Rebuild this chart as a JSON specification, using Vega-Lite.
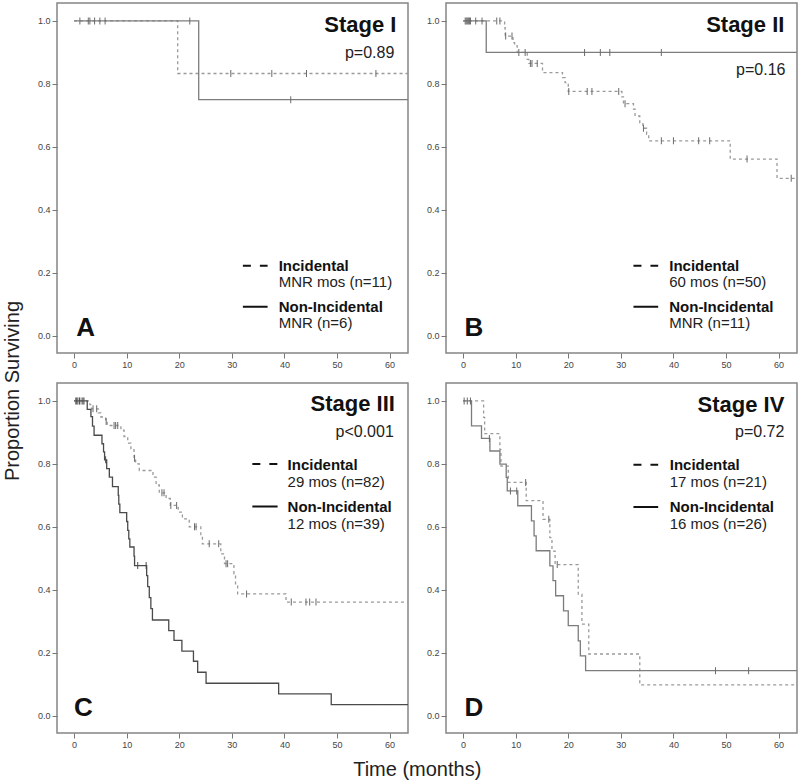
{
  "$schema": "https://vega.github.io/schema/vega-lite/v6.json",
  "padding": {"left": 2, "top": 2, "right": 0, "bottom": 0},
  "background": "white",
  "title": {"text": "Proportion Surviving", "orient": "left", "anchor": "middle", "fontSize": 20, "font": "Liberation Sans", "fontWeight": "normal", "color": "#222", "offset": 14},
  "data": {"values": [
    {"kind":"curve","panel":"A","series":"Incidental","time":0,"surv":1},
    {"kind":"curve","panel":"A","series":"Incidental","time":19.7,"surv":0.833},
    {"kind":"curve","panel":"A","series":"Incidental","time":64,"surv":0.833},
    {"kind":"curve","panel":"A","series":"Non-Incidental","time":0,"surv":1},
    {"kind":"curve","panel":"A","series":"Non-Incidental","time":23.7,"surv":0.75},
    {"kind":"curve","panel":"A","series":"Non-Incidental","time":64,"surv":0.75},

    {"kind":"curve","panel":"B","series":"Incidental","time":0,"surv":1},
    {"kind":"curve","panel":"B","series":"Incidental","time":7.9,"surv":0.979},
    {"kind":"curve","panel":"B","series":"Incidental","time":8.0,"surv":0.952},
    {"kind":"curve","panel":"B","series":"Incidental","time":9.5,"surv":0.931},
    {"kind":"curve","panel":"B","series":"Incidental","time":9.8,"surv":0.921},
    {"kind":"curve","panel":"B","series":"Incidental","time":10.3,"surv":0.9},
    {"kind":"curve","panel":"B","series":"Incidental","time":12.2,"surv":0.878},
    {"kind":"curve","panel":"B","series":"Incidental","time":12.5,"surv":0.865},
    {"kind":"curve","panel":"B","series":"Incidental","time":15.1,"surv":0.836},
    {"kind":"curve","panel":"B","series":"Incidental","time":18.9,"surv":0.82},
    {"kind":"curve","panel":"B","series":"Incidental","time":19.4,"surv":0.804},
    {"kind":"curve","panel":"B","series":"Incidental","time":20.0,"surv":0.776},
    {"kind":"curve","panel":"B","series":"Incidental","time":30.2,"surv":0.759},
    {"kind":"curve","panel":"B","series":"Incidental","time":30.5,"surv":0.737},
    {"kind":"curve","panel":"B","series":"Incidental","time":32.4,"surv":0.72},
    {"kind":"curve","panel":"B","series":"Incidental","time":32.7,"surv":0.698},
    {"kind":"curve","panel":"B","series":"Incidental","time":33.6,"surv":0.677},
    {"kind":"curve","panel":"B","series":"Incidental","time":34.2,"surv":0.659},
    {"kind":"curve","panel":"B","series":"Incidental","time":34.9,"surv":0.64},
    {"kind":"curve","panel":"B","series":"Incidental","time":35.3,"surv":0.619},
    {"kind":"curve","panel":"B","series":"Incidental","time":50.8,"surv":0.561},
    {"kind":"curve","panel":"B","series":"Incidental","time":59.7,"surv":0.5},
    {"kind":"curve","panel":"B","series":"Incidental","time":64,"surv":0.5},
    {"kind":"curve","panel":"B","series":"Non-Incidental","time":0,"surv":1},
    {"kind":"curve","panel":"B","series":"Non-Incidental","time":4.4,"surv":0.9},
    {"kind":"curve","panel":"B","series":"Non-Incidental","time":64,"surv":0.9},

    {"kind":"curve","panel":"C","series":"Incidental","time":0,"surv":1},
    {"kind":"curve","panel":"C","series":"Incidental","time":3.0,"surv":0.988},
    {"kind":"curve","panel":"C","series":"Incidental","time":3.3,"surv":0.975},
    {"kind":"curve","panel":"C","series":"Incidental","time":4.6,"surv":0.962},
    {"kind":"curve","panel":"C","series":"Incidental","time":5.1,"surv":0.949},
    {"kind":"curve","panel":"C","series":"Incidental","time":6.0,"surv":0.935},
    {"kind":"curve","panel":"C","series":"Incidental","time":6.3,"surv":0.922},
    {"kind":"curve","panel":"C","series":"Incidental","time":8.9,"surv":0.907},
    {"kind":"curve","panel":"C","series":"Incidental","time":9.5,"surv":0.887},
    {"kind":"curve","panel":"C","series":"Incidental","time":10.2,"surv":0.866},
    {"kind":"curve","panel":"C","series":"Incidental","time":10.8,"surv":0.845},
    {"kind":"curve","panel":"C","series":"Incidental","time":11.4,"surv":0.818},
    {"kind":"curve","panel":"C","series":"Incidental","time":11.7,"surv":0.8},
    {"kind":"curve","panel":"C","series":"Incidental","time":12.4,"surv":0.779},
    {"kind":"curve","panel":"C","series":"Incidental","time":15.0,"surv":0.758},
    {"kind":"curve","panel":"C","series":"Incidental","time":15.6,"surv":0.733},
    {"kind":"curve","panel":"C","series":"Incidental","time":16.2,"surv":0.708},
    {"kind":"curve","panel":"C","series":"Incidental","time":17.5,"surv":0.69},
    {"kind":"curve","panel":"C","series":"Incidental","time":18.3,"surv":0.668},
    {"kind":"curve","panel":"C","series":"Incidental","time":19.8,"surv":0.647},
    {"kind":"curve","panel":"C","series":"Incidental","time":20.6,"surv":0.625},
    {"kind":"curve","panel":"C","series":"Incidental","time":21.9,"surv":0.6},
    {"kind":"curve","panel":"C","series":"Incidental","time":24.1,"surv":0.575},
    {"kind":"curve","panel":"C","series":"Incidental","time":24.4,"surv":0.546},
    {"kind":"curve","panel":"C","series":"Incidental","time":27.9,"surv":0.514},
    {"kind":"curve","panel":"C","series":"Incidental","time":28.6,"surv":0.483},
    {"kind":"curve","panel":"C","series":"Incidental","time":30.4,"surv":0.451},
    {"kind":"curve","panel":"C","series":"Incidental","time":30.7,"surv":0.419},
    {"kind":"curve","panel":"C","series":"Incidental","time":31.1,"surv":0.387},
    {"kind":"curve","panel":"C","series":"Incidental","time":40.3,"surv":0.361},
    {"kind":"curve","panel":"C","series":"Incidental","time":64,"surv":0.361},
    {"kind":"curve","panel":"C","series":"Non-Incidental","time":0,"surv":1},
    {"kind":"curve","panel":"C","series":"Non-Incidental","time":2.5,"surv":0.973},
    {"kind":"curve","panel":"C","series":"Non-Incidental","time":3.2,"surv":0.95},
    {"kind":"curve","panel":"C","series":"Non-Incidental","time":3.5,"surv":0.92},
    {"kind":"curve","panel":"C","series":"Non-Incidental","time":3.8,"surv":0.891},
    {"kind":"curve","panel":"C","series":"Non-Incidental","time":5.3,"surv":0.864},
    {"kind":"curve","panel":"C","series":"Non-Incidental","time":5.6,"surv":0.838},
    {"kind":"curve","panel":"C","series":"Non-Incidental","time":5.8,"surv":0.813},
    {"kind":"curve","panel":"C","series":"Non-Incidental","time":6.2,"surv":0.785},
    {"kind":"curve","panel":"C","series":"Non-Incidental","time":6.7,"surv":0.758},
    {"kind":"curve","panel":"C","series":"Non-Incidental","time":7.3,"surv":0.728},
    {"kind":"curve","panel":"C","series":"Non-Incidental","time":8.4,"surv":0.7},
    {"kind":"curve","panel":"C","series":"Non-Incidental","time":8.5,"surv":0.672},
    {"kind":"curve","panel":"C","series":"Non-Incidental","time":8.7,"surv":0.645},
    {"kind":"curve","panel":"C","series":"Non-Incidental","time":10.0,"surv":0.617},
    {"kind":"curve","panel":"C","series":"Non-Incidental","time":10.2,"surv":0.589},
    {"kind":"curve","panel":"C","series":"Non-Incidental","time":10.4,"surv":0.562},
    {"kind":"curve","panel":"C","series":"Non-Incidental","time":10.6,"surv":0.536},
    {"kind":"curve","panel":"C","series":"Non-Incidental","time":11.4,"surv":0.507},
    {"kind":"curve","panel":"C","series":"Non-Incidental","time":11.5,"surv":0.477},
    {"kind":"curve","panel":"C","series":"Non-Incidental","time":13.8,"surv":0.445},
    {"kind":"curve","panel":"C","series":"Non-Incidental","time":14.0,"surv":0.41},
    {"kind":"curve","panel":"C","series":"Non-Incidental","time":14.3,"surv":0.375},
    {"kind":"curve","panel":"C","series":"Non-Incidental","time":14.6,"surv":0.34},
    {"kind":"curve","panel":"C","series":"Non-Incidental","time":14.9,"surv":0.304},
    {"kind":"curve","panel":"C","series":"Non-Incidental","time":18.0,"surv":0.27},
    {"kind":"curve","panel":"C","series":"Non-Incidental","time":19.0,"surv":0.239},
    {"kind":"curve","panel":"C","series":"Non-Incidental","time":20.5,"surv":0.205},
    {"kind":"curve","panel":"C","series":"Non-Incidental","time":22.7,"surv":0.173},
    {"kind":"curve","panel":"C","series":"Non-Incidental","time":23.5,"surv":0.138},
    {"kind":"curve","panel":"C","series":"Non-Incidental","time":25.1,"surv":0.103},
    {"kind":"curve","panel":"C","series":"Non-Incidental","time":38.9,"surv":0.069},
    {"kind":"curve","panel":"C","series":"Non-Incidental","time":48.9,"surv":0.035},
    {"kind":"curve","panel":"C","series":"Non-Incidental","time":64,"surv":0.035},

    {"kind":"curve","panel":"D","series":"Incidental","time":0,"surv":1},
    {"kind":"curve","panel":"D","series":"Incidental","time":3.9,"surv":0.948},
    {"kind":"curve","panel":"D","series":"Incidental","time":4.1,"surv":0.896},
    {"kind":"curve","panel":"D","series":"Incidental","time":7.0,"surv":0.845},
    {"kind":"curve","panel":"D","series":"Incidental","time":7.2,"surv":0.793},
    {"kind":"curve","panel":"D","series":"Incidental","time":8.6,"surv":0.741},
    {"kind":"curve","panel":"D","series":"Incidental","time":12.0,"surv":0.683},
    {"kind":"curve","panel":"D","series":"Incidental","time":15.2,"surv":0.624},
    {"kind":"curve","panel":"D","series":"Incidental","time":16.5,"surv":0.566},
    {"kind":"curve","panel":"D","series":"Incidental","time":16.9,"surv":0.523},
    {"kind":"curve","panel":"D","series":"Incidental","time":17.5,"surv":0.48},
    {"kind":"curve","panel":"D","series":"Incidental","time":21.9,"surv":0.386},
    {"kind":"curve","panel":"D","series":"Incidental","time":22.6,"surv":0.291},
    {"kind":"curve","panel":"D","series":"Incidental","time":23.9,"surv":0.196},
    {"kind":"curve","panel":"D","series":"Incidental","time":33.6,"surv":0.098},
    {"kind":"curve","panel":"D","series":"Incidental","time":64,"surv":0.098},
    {"kind":"curve","panel":"D","series":"Non-Incidental","time":0,"surv":1},
    {"kind":"curve","panel":"D","series":"Non-Incidental","time":1.6,"surv":0.921},
    {"kind":"curve","panel":"D","series":"Non-Incidental","time":3.5,"surv":0.881},
    {"kind":"curve","panel":"D","series":"Non-Incidental","time":5.1,"surv":0.841},
    {"kind":"curve","panel":"D","series":"Non-Incidental","time":7.0,"surv":0.799},
    {"kind":"curve","panel":"D","series":"Non-Incidental","time":8.2,"surv":0.757},
    {"kind":"curve","panel":"D","series":"Non-Incidental","time":8.4,"surv":0.714},
    {"kind":"curve","panel":"D","series":"Non-Incidental","time":10.4,"surv":0.667},
    {"kind":"curve","panel":"D","series":"Non-Incidental","time":13.0,"surv":0.619},
    {"kind":"curve","panel":"D","series":"Non-Incidental","time":13.5,"surv":0.571},
    {"kind":"curve","panel":"D","series":"Non-Incidental","time":13.9,"surv":0.524},
    {"kind":"curve","panel":"D","series":"Non-Incidental","time":16.5,"surv":0.476},
    {"kind":"curve","panel":"D","series":"Non-Incidental","time":17.1,"surv":0.429},
    {"kind":"curve","panel":"D","series":"Non-Incidental","time":17.6,"surv":0.381},
    {"kind":"curve","panel":"D","series":"Non-Incidental","time":19.1,"surv":0.333},
    {"kind":"curve","panel":"D","series":"Non-Incidental","time":20.0,"surv":0.286},
    {"kind":"curve","panel":"D","series":"Non-Incidental","time":21.9,"surv":0.238},
    {"kind":"curve","panel":"D","series":"Non-Incidental","time":22.3,"surv":0.19},
    {"kind":"curve","panel":"D","series":"Non-Incidental","time":23.3,"surv":0.143},
    {"kind":"curve","panel":"D","series":"Non-Incidental","time":64,"surv":0.143},

    {"kind":"censor","panel":"A","series":"Incidental","time":1.1,"surv":1},
    {"kind":"censor","panel":"A","series":"Incidental","time":2.7,"surv":1},
    {"kind":"censor","panel":"A","series":"Incidental","time":3.9,"surv":1},
    {"kind":"censor","panel":"A","series":"Incidental","time":4.9,"surv":1},
    {"kind":"censor","panel":"A","series":"Incidental","time":5.9,"surv":1},
    {"kind":"censor","panel":"A","series":"Incidental","time":29.8,"surv":0.833},
    {"kind":"censor","panel":"A","series":"Incidental","time":37.6,"surv":0.833},
    {"kind":"censor","panel":"A","series":"Incidental","time":44.2,"surv":0.833},
    {"kind":"censor","panel":"A","series":"Incidental","time":57.4,"surv":0.833},
    {"kind":"censor","panel":"A","series":"Non-Incidental","time":3.0,"surv":1},
    {"kind":"censor","panel":"A","series":"Non-Incidental","time":22.0,"surv":1},
    {"kind":"censor","panel":"A","series":"Non-Incidental","time":41.2,"surv":0.75},

    {"kind":"censor","panel":"B","series":"Incidental","time":0.4,"surv":1},
    {"kind":"censor","panel":"B","series":"Incidental","time":0.8,"surv":1},
    {"kind":"censor","panel":"B","series":"Incidental","time":1.0,"surv":1},
    {"kind":"censor","panel":"B","series":"Incidental","time":1.2,"surv":1},
    {"kind":"censor","panel":"B","series":"Incidental","time":6.4,"surv":1},
    {"kind":"censor","panel":"B","series":"Incidental","time":7.0,"surv":1},
    {"kind":"censor","panel":"B","series":"Incidental","time":8.1,"surv":0.952},
    {"kind":"censor","panel":"B","series":"Incidental","time":9.3,"surv":0.952},
    {"kind":"censor","panel":"B","series":"Incidental","time":10.6,"surv":0.9},
    {"kind":"censor","panel":"B","series":"Incidental","time":11.8,"surv":0.9},
    {"kind":"censor","panel":"B","series":"Incidental","time":12.8,"surv":0.865},
    {"kind":"censor","panel":"B","series":"Incidental","time":13.1,"surv":0.865},
    {"kind":"censor","panel":"B","series":"Incidental","time":14.1,"surv":0.865},
    {"kind":"censor","panel":"B","series":"Incidental","time":20.1,"surv":0.776},
    {"kind":"censor","panel":"B","series":"Incidental","time":23.6,"surv":0.776},
    {"kind":"censor","panel":"B","series":"Incidental","time":24.5,"surv":0.776},
    {"kind":"censor","panel":"B","series":"Incidental","time":29.6,"surv":0.776},
    {"kind":"censor","panel":"B","series":"Incidental","time":30.8,"surv":0.737},
    {"kind":"censor","panel":"B","series":"Incidental","time":34.3,"surv":0.659},
    {"kind":"censor","panel":"B","series":"Incidental","time":37.7,"surv":0.619},
    {"kind":"censor","panel":"B","series":"Incidental","time":40.0,"surv":0.619},
    {"kind":"censor","panel":"B","series":"Incidental","time":44.8,"surv":0.619},
    {"kind":"censor","panel":"B","series":"Incidental","time":46.9,"surv":0.619},
    {"kind":"censor","panel":"B","series":"Incidental","time":54.0,"surv":0.561},
    {"kind":"censor","panel":"B","series":"Incidental","time":62.4,"surv":0.5},
    {"kind":"censor","panel":"B","series":"Non-Incidental","time":0.6,"surv":1},
    {"kind":"censor","panel":"B","series":"Non-Incidental","time":1.4,"surv":1},
    {"kind":"censor","panel":"B","series":"Non-Incidental","time":2.4,"surv":1},
    {"kind":"censor","panel":"B","series":"Non-Incidental","time":3.6,"surv":1},
    {"kind":"censor","panel":"B","series":"Non-Incidental","time":23.1,"surv":0.9},
    {"kind":"censor","panel":"B","series":"Non-Incidental","time":26.1,"surv":0.9},
    {"kind":"censor","panel":"B","series":"Non-Incidental","time":27.9,"surv":0.9},
    {"kind":"censor","panel":"B","series":"Non-Incidental","time":37.7,"surv":0.9},

    {"kind":"censor","panel":"C","series":"Incidental","time":0.3,"surv":1},
    {"kind":"censor","panel":"C","series":"Incidental","time":0.7,"surv":1},
    {"kind":"censor","panel":"C","series":"Incidental","time":1.1,"surv":1},
    {"kind":"censor","panel":"C","series":"Incidental","time":1.5,"surv":1},
    {"kind":"censor","panel":"C","series":"Incidental","time":1.9,"surv":1},
    {"kind":"censor","panel":"C","series":"Incidental","time":3.6,"surv":0.975},
    {"kind":"censor","panel":"C","series":"Incidental","time":4.3,"surv":0.975},
    {"kind":"censor","panel":"C","series":"Incidental","time":6.1,"surv":0.935},
    {"kind":"censor","panel":"C","series":"Incidental","time":7.6,"surv":0.922},
    {"kind":"censor","panel":"C","series":"Incidental","time":7.9,"surv":0.922},
    {"kind":"censor","panel":"C","series":"Incidental","time":8.3,"surv":0.922},
    {"kind":"censor","panel":"C","series":"Incidental","time":11.5,"surv":0.818},
    {"kind":"censor","panel":"C","series":"Incidental","time":16.7,"surv":0.708},
    {"kind":"censor","panel":"C","series":"Incidental","time":17.1,"surv":0.708},
    {"kind":"censor","panel":"C","series":"Incidental","time":18.4,"surv":0.668},
    {"kind":"censor","panel":"C","series":"Incidental","time":19.5,"surv":0.668},
    {"kind":"censor","panel":"C","series":"Incidental","time":22.9,"surv":0.6},
    {"kind":"censor","panel":"C","series":"Incidental","time":23.2,"surv":0.6},
    {"kind":"censor","panel":"C","series":"Incidental","time":25.7,"surv":0.546},
    {"kind":"censor","panel":"C","series":"Incidental","time":27.5,"surv":0.546},
    {"kind":"censor","panel":"C","series":"Incidental","time":28.9,"surv":0.483},
    {"kind":"censor","panel":"C","series":"Incidental","time":29.2,"surv":0.483},
    {"kind":"censor","panel":"C","series":"Incidental","time":32.8,"surv":0.387},
    {"kind":"censor","panel":"C","series":"Incidental","time":41.3,"surv":0.361},
    {"kind":"censor","panel":"C","series":"Incidental","time":44.1,"surv":0.361},
    {"kind":"censor","panel":"C","series":"Incidental","time":44.8,"surv":0.361},
    {"kind":"censor","panel":"C","series":"Incidental","time":46.0,"surv":0.361},
    {"kind":"censor","panel":"C","series":"Non-Incidental","time":0.5,"surv":1},
    {"kind":"censor","panel":"C","series":"Non-Incidental","time":1.0,"surv":1},
    {"kind":"censor","panel":"C","series":"Non-Incidental","time":1.7,"surv":1},
    {"kind":"censor","panel":"C","series":"Non-Incidental","time":6.0,"surv":0.813},
    {"kind":"censor","panel":"C","series":"Non-Incidental","time":12.1,"surv":0.477},
    {"kind":"censor","panel":"C","series":"Non-Incidental","time":13.7,"surv":0.477},

    {"kind":"censor","panel":"D","series":"Incidental","time":0.8,"surv":1},
    {"kind":"censor","panel":"D","series":"Incidental","time":11.9,"surv":0.741},
    {"kind":"censor","panel":"D","series":"Incidental","time":16.3,"surv":0.624},
    {"kind":"censor","panel":"D","series":"Incidental","time":17.9,"surv":0.48},
    {"kind":"censor","panel":"D","series":"Non-Incidental","time":0.2,"surv":1},
    {"kind":"censor","panel":"D","series":"Non-Incidental","time":1.4,"surv":1},
    {"kind":"censor","panel":"D","series":"Non-Incidental","time":5.0,"surv":0.881},
    {"kind":"censor","panel":"D","series":"Non-Incidental","time":9.0,"surv":0.714},
    {"kind":"censor","panel":"D","series":"Non-Incidental","time":10.2,"surv":0.714},
    {"kind":"censor","panel":"D","series":"Non-Incidental","time":48.0,"surv":0.143},
    {"kind":"censor","panel":"D","series":"Non-Incidental","time":54.3,"surv":0.143},

    {"kind":"key","panel":"A","series":"Incidental","time":32.1,"time2":36.8,"surv":0.222},
    {"kind":"key","panel":"A","series":"Non-Incidental","time":32.1,"time2":36.8,"surv":0.092},
    {"kind":"key","panel":"B","series":"Incidental","time":32.4,"time2":37.1,"surv":0.222},
    {"kind":"key","panel":"B","series":"Non-Incidental","time":32.4,"time2":37.1,"surv":0.092},
    {"kind":"key","panel":"C","series":"Incidental","time":33.9,"time2":38.7,"surv":0.8},
    {"kind":"key","panel":"C","series":"Non-Incidental","time":33.9,"time2":38.7,"surv":0.665},
    {"kind":"key","panel":"D","series":"Incidental","time":32.4,"time2":37.1,"surv":0.797},
    {"kind":"key","panel":"D","series":"Non-Incidental","time":32.4,"time2":37.1,"surv":0.663},

    {"kind":"stage","panel":"A","text":"Stage I","time":61.3,"surv":0.965},
    {"kind":"stage","panel":"B","text":"Stage II","time":61.1,"surv":0.965},
    {"kind":"stage","panel":"C","text":"Stage III","time":61.0,"surv":0.968},
    {"kind":"stage","panel":"D","text":"Stage IV","time":61.1,"surv":0.966},
    {"kind":"pval","panel":"A","text":"p=0.89","time":60.9,"surv":0.883},
    {"kind":"pval","panel":"B","text":"p=0.16","time":61.3,"surv":0.829},
    {"kind":"pval","panel":"C","text":"p<0.001","time":60.8,"surv":0.885},
    {"kind":"pval","panel":"D","text":"p=0.72","time":61.1,"surv":0.884},
    {"kind":"letter","panel":"A","text":"A","time":0.4,"surv":0.0},
    {"kind":"letter","panel":"B","text":"B","time":0.25,"surv":0.0},
    {"kind":"letter","panel":"C","text":"C","time":0.0,"surv":0.0},
    {"kind":"letter","panel":"D","text":"D","time":0.25,"surv":0.0},
    {"kind":"head","panel":"A","text":"Incidental","time":38.9,"surv":0.205},
    {"kind":"head","panel":"A","text":"Non-Incidental","time":38.9,"surv":0.076},
    {"kind":"head","panel":"B","text":"Incidental","time":39.2,"surv":0.205},
    {"kind":"head","panel":"B","text":"Non-Incidental","time":39.2,"surv":0.076},
    {"kind":"head","panel":"C","text":"Incidental","time":40.6,"surv":0.781},
    {"kind":"head","panel":"C","text":"Non-Incidental","time":40.6,"surv":0.647},
    {"kind":"head","panel":"D","text":"Incidental","time":39.3,"surv":0.78},
    {"kind":"head","panel":"D","text":"Non-Incidental","time":39.3,"surv":0.646},
    {"kind":"sub","panel":"A","text":"MNR mos (n=11)","time":38.9,"surv":0.156},
    {"kind":"sub","panel":"A","text":"MNR (n=6)","time":38.9,"surv":0.025},
    {"kind":"sub","panel":"B","text":"60 mos (n=50)","time":39.2,"surv":0.156},
    {"kind":"sub","panel":"B","text":"MNR (n=11)","time":39.2,"surv":0.025},
    {"kind":"sub","panel":"C","text":"29 mos (n=82)","time":40.6,"surv":0.726},
    {"kind":"sub","panel":"C","text":"12 mos (n=39)","time":40.6,"surv":0.594},
    {"kind":"sub","panel":"D","text":"17 mos (n=21)","time":39.3,"surv":0.725},
    {"kind":"sub","panel":"D","text":"16 mos (n=26)","time":39.3,"surv":0.593}
  ]},
  "vconcat": [
    {
      "title": {"text": "Time (months)", "orient": "bottom", "anchor": "middle", "fontSize": 20, "font": "Liberation Sans", "fontWeight": "normal", "color": "#222", "offset": 10},
      "spacing": 12,
      "vconcat": [
        {
          "spacing": 38,
          "bounds": "flush",
          "hconcat": [
            {
              "width": 351, "height": 350,
              "transform": [{"filter": "datum.panel === 'A'"}],
              "encoding": {
                "x": {"field": "time", "type": "quantitative", "scale": {"domain": [-3.25, 63.5], "nice": false, "zero": false}, "axis": {"values": [0, 10, 20, 30, 40, 50, 60], "title": null}},
                "y": {"field": "surv", "type": "quantitative", "scale": {"domain": [-0.055, 1.057], "nice": false, "zero": false}, "axis": {"values": [0, 0.2, 0.4, 0.6, 0.8, 1], "format": ".1f", "title": null}}
              },
              "layer": [
                {"transform": [{"filter": "datum.kind === 'curve'"}], "mark": {"type": "line", "interpolate": "step-after", "clip": true, "strokeWidth": 1.3},
                 "encoding": {"detail": {"field": "series"},
                   "stroke": {"condition": {"test": "datum.series === 'Incidental'", "value": "#9a9a9a"}, "value": "#7c7c7c"},
                   "strokeDash": {"condition": {"test": "datum.series === 'Incidental'", "value": [3, 3]}, "value": [1, 0]}}},
                {"transform": [{"filter": "datum.kind === 'censor'"}], "mark": {"type": "tick", "orient": "vertical", "size": 7, "thickness": 1, "opacity": 1, "color": "#6a6a6a"}},
                {"transform": [{"filter": "datum.kind === 'key'"}], "mark": {"type": "rule", "strokeWidth": 2, "color": "#111"},
                 "encoding": {"x2": {"field": "time2"}, "strokeDash": {"condition": {"test": "datum.series === 'Incidental'", "value": [8, 9]}, "value": [1, 0]}}},
                {"transform": [{"filter": "datum.kind === 'stage'"}], "mark": {"type": "text", "align": "right", "baseline": "alphabetic", "fontSize": 22, "fontWeight": "bold", "color": "#111"}, "encoding": {"text": {"field": "text"}}},
                {"transform": [{"filter": "datum.kind === 'pval'"}], "mark": {"type": "text", "align": "right", "baseline": "alphabetic", "fontSize": 16, "color": "#222"}, "encoding": {"text": {"field": "text"}}},
                {"transform": [{"filter": "datum.kind === 'letter'"}], "mark": {"type": "text", "align": "left", "baseline": "alphabetic", "fontSize": 26, "fontWeight": "bold", "color": "#111"}, "encoding": {"text": {"field": "text"}}},
                {"transform": [{"filter": "datum.kind === 'head'"}], "mark": {"type": "text", "align": "left", "baseline": "alphabetic", "fontSize": 15, "fontWeight": "bold", "color": "#111"}, "encoding": {"text": {"field": "text"}}},
                {"transform": [{"filter": "datum.kind === 'sub'"}], "mark": {"type": "text", "align": "left", "baseline": "alphabetic", "fontSize": 15, "color": "#222"}, "encoding": {"text": {"field": "text"}}}
              ]
            },
            {
              "width": 351, "height": 350,
              "transform": [{"filter": "datum.panel === 'B'"}],
              "encoding": {
                "x": {"field": "time", "type": "quantitative", "scale": {"domain": [-3.25, 63.5], "nice": false, "zero": false}, "axis": {"values": [0, 10, 20, 30, 40, 50, 60], "title": null}},
                "y": {"field": "surv", "type": "quantitative", "scale": {"domain": [-0.055, 1.057], "nice": false, "zero": false}, "axis": {"values": [0, 0.2, 0.4, 0.6, 0.8, 1], "format": ".1f", "title": null}}
              },
              "layer": [
                {"transform": [{"filter": "datum.kind === 'curve'"}], "mark": {"type": "line", "interpolate": "step-after", "clip": true, "strokeWidth": 1.3},
                 "encoding": {"detail": {"field": "series"},
                   "stroke": {"condition": {"test": "datum.series === 'Incidental'", "value": "#9a9a9a"}, "value": "#7c7c7c"},
                   "strokeDash": {"condition": {"test": "datum.series === 'Incidental'", "value": [3, 3]}, "value": [1, 0]}}},
                {"transform": [{"filter": "datum.kind === 'censor'"}], "mark": {"type": "tick", "orient": "vertical", "size": 7, "thickness": 1, "opacity": 1, "color": "#6a6a6a"}},
                {"transform": [{"filter": "datum.kind === 'key'"}], "mark": {"type": "rule", "strokeWidth": 2, "color": "#111"},
                 "encoding": {"x2": {"field": "time2"}, "strokeDash": {"condition": {"test": "datum.series === 'Incidental'", "value": [8, 9]}, "value": [1, 0]}}},
                {"transform": [{"filter": "datum.kind === 'stage'"}], "mark": {"type": "text", "align": "right", "baseline": "alphabetic", "fontSize": 22, "fontWeight": "bold", "color": "#111"}, "encoding": {"text": {"field": "text"}}},
                {"transform": [{"filter": "datum.kind === 'pval'"}], "mark": {"type": "text", "align": "right", "baseline": "alphabetic", "fontSize": 16, "color": "#222"}, "encoding": {"text": {"field": "text"}}},
                {"transform": [{"filter": "datum.kind === 'letter'"}], "mark": {"type": "text", "align": "left", "baseline": "alphabetic", "fontSize": 26, "fontWeight": "bold", "color": "#111"}, "encoding": {"text": {"field": "text"}}},
                {"transform": [{"filter": "datum.kind === 'head'"}], "mark": {"type": "text", "align": "left", "baseline": "alphabetic", "fontSize": 15, "fontWeight": "bold", "color": "#111"}, "encoding": {"text": {"field": "text"}}},
                {"transform": [{"filter": "datum.kind === 'sub'"}], "mark": {"type": "text", "align": "left", "baseline": "alphabetic", "fontSize": 15, "color": "#222"}, "encoding": {"text": {"field": "text"}}}
              ]
            }
          ]
        },
        {
          "spacing": 38,
          "bounds": "flush",
          "hconcat": [
            {
              "width": 351, "height": 350,
              "transform": [{"filter": "datum.panel === 'C'"}],
              "encoding": {
                "x": {"field": "time", "type": "quantitative", "scale": {"domain": [-3.25, 63.5], "nice": false, "zero": false}, "axis": {"values": [0, 10, 20, 30, 40, 50, 60], "title": null}},
                "y": {"field": "surv", "type": "quantitative", "scale": {"domain": [-0.055, 1.057], "nice": false, "zero": false}, "axis": {"values": [0, 0.2, 0.4, 0.6, 0.8, 1], "format": ".1f", "title": null}}
              },
              "layer": [
                {"transform": [{"filter": "datum.kind === 'curve'"}], "mark": {"type": "line", "interpolate": "step-after", "clip": true, "strokeWidth": 1.3},
                 "encoding": {"detail": {"field": "series"},
                   "stroke": {"condition": {"test": "datum.series === 'Incidental'", "value": "#9a9a9a"}, "value": "#4a4a4a"},
                   "strokeDash": {"condition": {"test": "datum.series === 'Incidental'", "value": [3, 3]}, "value": [1, 0]}}},
                {"transform": [{"filter": "datum.kind === 'censor'"}], "mark": {"type": "tick", "orient": "vertical", "size": 7, "thickness": 1, "opacity": 1},
                 "encoding": {"color": {"condition": {"test": "datum.series === 'Incidental'", "value": "#6a6a6a"}, "value": "#4a4a4a"}}},
                {"transform": [{"filter": "datum.kind === 'key'"}], "mark": {"type": "rule", "strokeWidth": 2, "color": "#111"},
                 "encoding": {"x2": {"field": "time2"}, "strokeDash": {"condition": {"test": "datum.series === 'Incidental'", "value": [8, 9]}, "value": [1, 0]}}},
                {"transform": [{"filter": "datum.kind === 'stage'"}], "mark": {"type": "text", "align": "right", "baseline": "alphabetic", "fontSize": 22, "fontWeight": "bold", "color": "#111"}, "encoding": {"text": {"field": "text"}}},
                {"transform": [{"filter": "datum.kind === 'pval'"}], "mark": {"type": "text", "align": "right", "baseline": "alphabetic", "fontSize": 16, "color": "#222"}, "encoding": {"text": {"field": "text"}}},
                {"transform": [{"filter": "datum.kind === 'letter'"}], "mark": {"type": "text", "align": "left", "baseline": "alphabetic", "fontSize": 26, "fontWeight": "bold", "color": "#111"}, "encoding": {"text": {"field": "text"}}},
                {"transform": [{"filter": "datum.kind === 'head'"}], "mark": {"type": "text", "align": "left", "baseline": "alphabetic", "fontSize": 15, "fontWeight": "bold", "color": "#111"}, "encoding": {"text": {"field": "text"}}},
                {"transform": [{"filter": "datum.kind === 'sub'"}], "mark": {"type": "text", "align": "left", "baseline": "alphabetic", "fontSize": 15, "color": "#222"}, "encoding": {"text": {"field": "text"}}}
              ]
            },
            {
              "width": 351, "height": 350,
              "transform": [{"filter": "datum.panel === 'D'"}],
              "encoding": {
                "x": {"field": "time", "type": "quantitative", "scale": {"domain": [-3.25, 63.5], "nice": false, "zero": false}, "axis": {"values": [0, 10, 20, 30, 40, 50, 60], "title": null}},
                "y": {"field": "surv", "type": "quantitative", "scale": {"domain": [-0.055, 1.057], "nice": false, "zero": false}, "axis": {"values": [0, 0.2, 0.4, 0.6, 0.8, 1], "format": ".1f", "title": null}}
              },
              "layer": [
                {"transform": [{"filter": "datum.kind === 'curve'"}], "mark": {"type": "line", "interpolate": "step-after", "clip": true, "strokeWidth": 1.3},
                 "encoding": {"detail": {"field": "series"},
                   "stroke": {"condition": {"test": "datum.series === 'Incidental'", "value": "#9a9a9a"}, "value": "#7c7c7c"},
                   "strokeDash": {"condition": {"test": "datum.series === 'Incidental'", "value": [3, 3]}, "value": [1, 0]}}},
                {"transform": [{"filter": "datum.kind === 'censor'"}], "mark": {"type": "tick", "orient": "vertical", "size": 7, "thickness": 1, "opacity": 1, "color": "#6a6a6a"}},
                {"transform": [{"filter": "datum.kind === 'key'"}], "mark": {"type": "rule", "strokeWidth": 2, "color": "#111"},
                 "encoding": {"x2": {"field": "time2"}, "strokeDash": {"condition": {"test": "datum.series === 'Incidental'", "value": [8, 9]}, "value": [1, 0]}}},
                {"transform": [{"filter": "datum.kind === 'stage'"}], "mark": {"type": "text", "align": "right", "baseline": "alphabetic", "fontSize": 22, "fontWeight": "bold", "color": "#111"}, "encoding": {"text": {"field": "text"}}},
                {"transform": [{"filter": "datum.kind === 'pval'"}], "mark": {"type": "text", "align": "right", "baseline": "alphabetic", "fontSize": 16, "color": "#222"}, "encoding": {"text": {"field": "text"}}},
                {"transform": [{"filter": "datum.kind === 'letter'"}], "mark": {"type": "text", "align": "left", "baseline": "alphabetic", "fontSize": 26, "fontWeight": "bold", "color": "#111"}, "encoding": {"text": {"field": "text"}}},
                {"transform": [{"filter": "datum.kind === 'head'"}], "mark": {"type": "text", "align": "left", "baseline": "alphabetic", "fontSize": 15, "fontWeight": "bold", "color": "#111"}, "encoding": {"text": {"field": "text"}}},
                {"transform": [{"filter": "datum.kind === 'sub'"}], "mark": {"type": "text", "align": "left", "baseline": "alphabetic", "fontSize": 15, "color": "#222"}, "encoding": {"text": {"field": "text"}}}
              ]
            }
          ]
        }
      ]
    }
  ],
  "config": {
    "font": "Liberation Sans",
    "text": {"font": "Liberation Sans"},
    "view": {"stroke": "#858585", "strokeWidth": 1.5},
    "axis": {"domain": false, "grid": false, "labelFont": "Liberation Sans", "labelFontSize": 9, "labelColor": "#444", "tickColor": "#777", "tickSize": 5, "labelPadding": 2}
  }
}
